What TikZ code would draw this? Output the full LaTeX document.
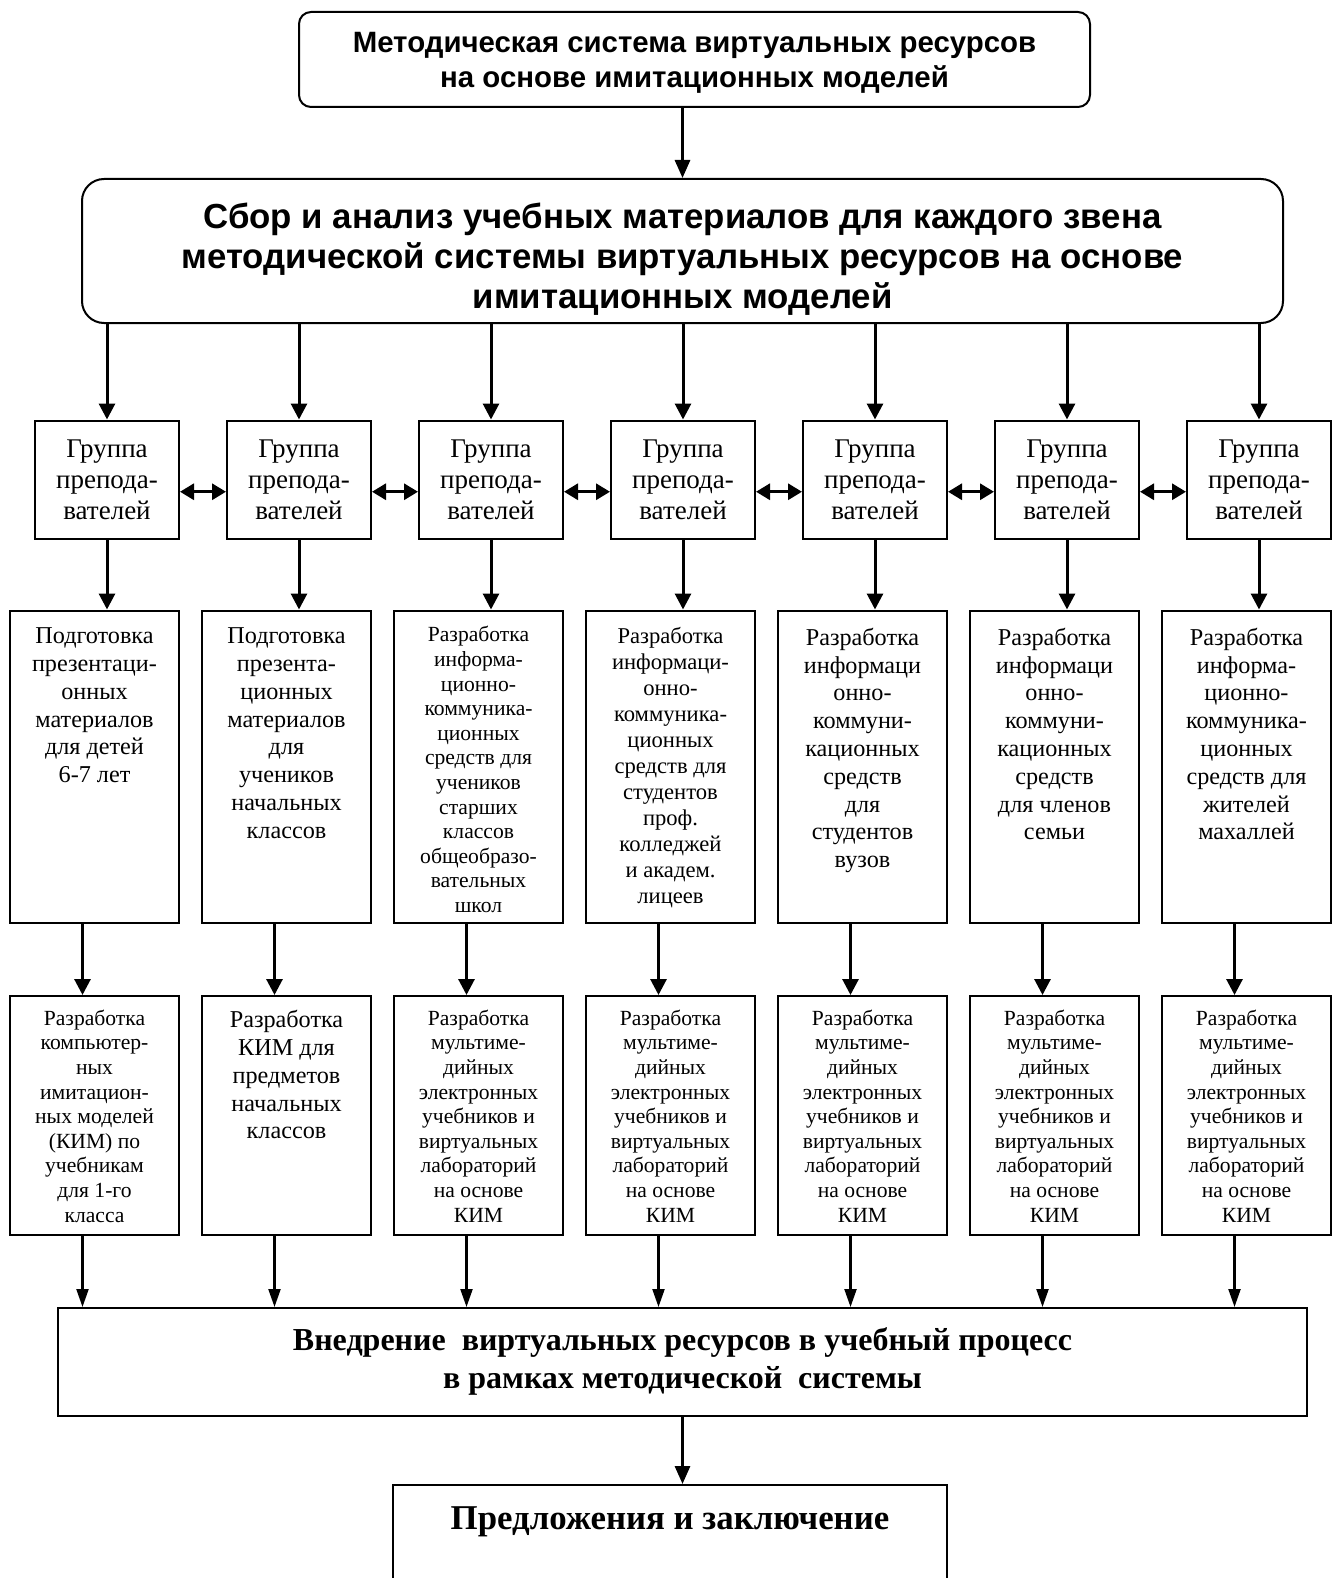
\documentclass[tikz,border=0pt]{standalone}
\usepackage{fontspec}
\setmainfont{Liberation Serif}
\newfontfamily\arialfont{Liberation Sans}
\usetikzlibrary{arrows.meta}
\begin{document}
\begin{tikzpicture}[x=0.5pt,y=-0.5pt,
  rbox/.style={draw,line width=1pt,inner sep=0pt,rounded corners=#1},
  sbox/.style={draw,line width=1pt,inner sep=0pt},
  big/.style={line width=1.5pt,-{Triangle[length=9pt,width=7.5pt]}},
  mid/.style={line width=1.5pt,-{Triangle[length=8pt,width=8pt]}},
  thinar/.style={line width=1.1pt,-{Triangle[length=9pt,width=6pt]}},
  dbl/.style={line width=1.5pt,{Triangle[length=7pt,width=8pt]}-{Triangle[length=7pt,width=8pt]}},
  gtext/.style={align=center,font=\fontsize{13.5}{15.5}\selectfont},
  ttA/.style={anchor=north,align=center,inner sep=0pt,font=\fontsize{12.1}{13.9}\selectfont},
  ttB/.style={anchor=north,align=center,inner sep=0pt,font=\fontsize{10.8}{12.3}\selectfont},
  ttC/.style={anchor=north,align=center,inner sep=0pt,font=\fontsize{11.3}{13}\selectfont},
]
\useasboundingbox (0,0) rectangle (1338,1578);
\clip (0,0) rectangle (1338,1578);

\node[rbox=6pt,minimum width=395.5pt,minimum height=47.5pt] (top) at (694.5,59.5) {};
\node[align=center,inner sep=0pt,font=\arialfont\bfseries\fontsize{14.7}{17.5}\selectfont] (topt) at (694.5,63)
  {Методическая система виртуальных ресурсов\\на основе имитационных моделей};

\node[rbox=11pt,minimum width=600.5pt,minimum height=72pt] (sec) at (682.5,251) {};
\node[align=center,inner sep=0pt,font=\arialfont\bfseries\fontsize{17.4}{20}\selectfont] (sect) at (682.5,259)
  {Сбор и анализ учебных материалов для каждого звена\\методической системы виртуальных ресурсов на основе\\имитационных моделей};

\draw[big] (top.south -| sec.north) -- (sec.north);

\foreach \i in {0,...,6}{
  \node[sbox,gtext,minimum width=72pt,minimum height=59.25pt] (g\i) at ({107+192*\i},479.75) {Группа\\препода-\\вателей};
  \node[sbox,minimum width=84.5pt,minimum height=156pt] (r\i) at ({94.5+192*\i},766.5) {};
  \node[sbox,minimum width=84.5pt,minimum height=119.5pt] (s\i) at ({94.5+192*\i},1115.5) {};
}

\node[sbox,minimum width=624.5pt,minimum height=53.75pt,align=center,
  font=\bfseries\fontsize{16}{19}\selectfont] (bot) at (682.5,1361.75)
  {Внедрение\ \ виртуальных ресурсов в учебный процесс\\в рамках методической\ \ системы};

\node[sbox,minimum width=277pt,minimum height=57.5pt] (last) at (670,1542.5) {};
\node[font=\bfseries\fontsize{17.4}{19}\selectfont,inner sep=0pt] (lastt) at (670,1522) {Предложения и заключение};

\foreach \i in {0,...,6}{
  \draw[mid] (g\i.north |- sec.south) -- (g\i.north);
  \draw[mid] (g\i.south) -- (g\i.south |- r\i.north);
  \draw[mid] ([xshift=-6pt]r\i.south) -- ([xshift=-6pt]r\i.south |- s\i.north);
  \draw[thinar] ([xshift=-6pt]s\i.south) -- ([xshift=-6pt]s\i.south |- bot.north);
}
\foreach \i [evaluate=\i as \j using int(\i+1)] in {0,...,5}{
  \draw[dbl] ([yshift=-6pt]g\i.east) -- ([yshift=-6pt]g\j.west);
}
\draw[big] (bot.south) -- (bot.south |- last.north);

% row 2 texts
\node[ttA] (tr0) at ([yshift=-9pt]r0.north) {Подготовка\\презентаци-\\онных\\материалов\\для детей\\6-7 лет};
\node[ttA] (tr1) at ([yshift=-9pt]r1.north) {Подготовка\\презента-\\ционных\\материалов\\для\\учеников\\начальных\\классов};
\node[ttB] (tr2) at ([yshift=-8.3pt]r2.north) {Разработка\\информа-\\ционно-\\коммуника-\\ционных\\средств для\\учеников\\старших\\классов\\общеобразо-\\вательных\\школ};
\node[ttC] (tr3) at ([yshift=-8.5pt]r3.north) {Разработка\\информаци-\\онно-\\коммуника-\\ционных\\средств для\\студентов\\проф.\\колледжей\\и академ.\\лицеев};
\node[ttA] (tr4) at ([yshift=-9pt]r4.north) {Разработка\\информаци\\онно-\\коммуни-\\кационных\\средств\\для\\студентов\\вузов};
\node[ttA] (tr5) at ([yshift=-9pt]r5.north) {Разработка\\информаци\\онно-\\коммуни-\\кационных\\средств\\для членов\\семьи};
\node[ttA] (tr6) at ([yshift=-9pt]r6.north) {Разработка\\информа-\\ционно-\\коммуника-\\ционных\\средств для\\жителей\\махаллей};

% row 3 texts
\node[ttB] (ts0) at ([yshift=-7.2pt]s0.north) {Разработка\\компьютер-\\ных\\имитацион-\\ных моделей\\(КИМ) по\\учебникам\\для 1-го\\класса};
\node[ttA] (ts1) at ([yshift=-7.5pt]s1.north) {Разработка\\КИМ для\\предметов\\начальных\\классов};
\foreach \i in {2,...,6}{
  \node[ttB] (ts\i) at ([yshift=-7.2pt]s\i.north) {Разработка\\мультиме-\\дийных\\электронных\\учебников и\\виртуальных\\лабораторий\\на основе\\КИМ};
}
\end{tikzpicture}
\end{document}
